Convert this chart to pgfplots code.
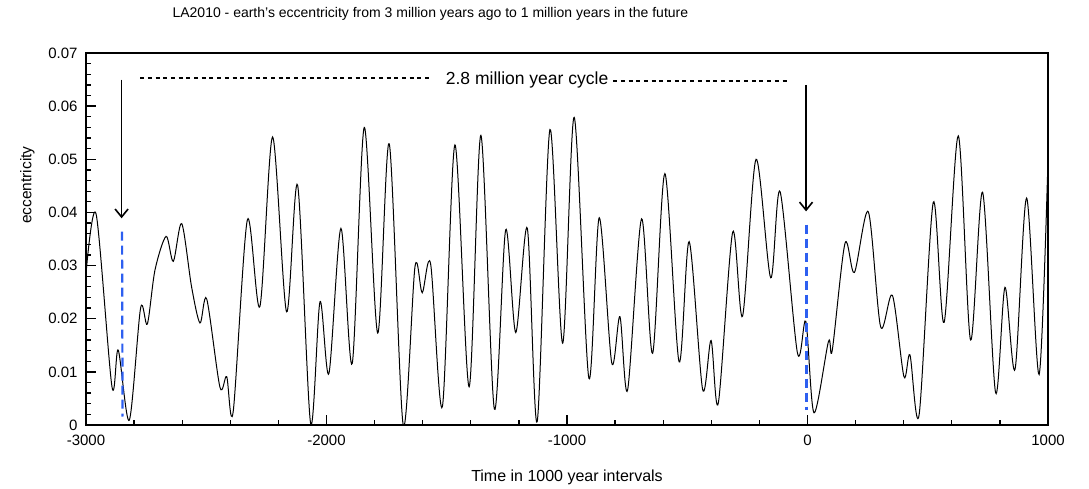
\documentclass[border=0pt]{standalone}
\usepackage{fontspec}
\setmainfont{Liberation Sans}
\usepackage{pgfplots}
\usepackage{pgfplotstable}
\pgfplotsset{compat=1.18}
\usetikzlibrary{arrows.meta}
\definecolor{cyclemark}{RGB}{45,95,240}

% LA2010 eccentricity: turning points of the solution, time in kyr
\pgfplotstableread{
t e
-3000 0.0285
-2958 0.0397
-2892 0.0072
-2866 0.0141
-2820 0.0009
-2773 0.0220
-2745 0.0190
-2713 0.0292
-2667 0.0355
-2637 0.0308
-2602 0.0379
-2561 0.0260
-2526 0.0192
-2498 0.0237
-2443 0.0071
-2415 0.0091
-2388 0.0025
-2329 0.0386
-2277 0.0223
-2224 0.0542
-2166 0.0213
-2120 0.0451
-2066 0.0003
-2027 0.0232
-1990 0.0097
-1940 0.0370
-1893 0.0116
-1843 0.0560
-1787 0.0173
-1739 0.0529
-1681 0.0000
-1632 0.0298
-1602 0.0249
-1567 0.0303
-1518 0.0035
-1466 0.0527
-1407 0.0072
-1358 0.0545
-1302 0.0030
-1255 0.0367
-1213 0.0174
-1165 0.0370
-1124 0.0006
-1071 0.0556
-1018 0.0154
-970 0.0579
-909 0.0088
-866 0.0390
-814 0.0117
-780 0.0204
-748 0.0066
-690 0.0388
-644 0.0135
-593 0.0473
-534 0.0119
-492 0.0345
-436 0.0067
-401 0.0159
-371 0.0041
-311 0.0363
-270 0.0205
-214 0.0500
-153 0.0277
-114 0.0439
-42 0.0136
-7 0.0195
27 0.0023
87 0.0157
103 0.0141
156 0.0342
195 0.0287
253 0.0401
304 0.0185
353 0.0244
401 0.0091
426 0.0132
464 0.0019
523 0.0419
568 0.0193
627 0.0544
678 0.0160
728 0.0438
782 0.0061
821 0.0259
863 0.0105
911 0.0427
963 0.0095
1000 0.0500
}\ecc

\begin{document}
\begin{tikzpicture}
\begin{axis}[
  scale only axis,
  width=962pt, height=372pt,
  xmin=-3000, xmax=1000, ymin=0, ymax=0.07,
  scaled x ticks=false, scaled y ticks=false,
  xtick={-3000,-2000,-1000,0,1000},
  xticklabels={-3000,-2000,-1000,0,1000},
  ytick={0,0.01,0.02,0.03,0.04,0.05,0.06,0.07},
  yticklabels={0,0.01,0.02,0.03,0.04,0.05,0.06,0.07},
  minor x tick num=4, minor y tick num=4,
  tick pos=left, tick align=inside,
  major tick length=10pt, minor tick length=5.5pt,
  every tick/.style={line width=1.3pt, black},
  axis line style={line width=1.8pt},
  ticklabel style={font=\fontsize{15}{18}\selectfont},
  xticklabel style={yshift=-6pt},
  yticklabel style={xshift=-5pt},
  title={LA2010 - earth's eccentricity from 3 million years ago to 1 million years in the future},
  title style={font=\fontsize{14}{17}\selectfont, at={(axis description cs:0.358,1.0806)}, anchor=base},
  xlabel={Time in 1000 year intervals},
  xlabel style={font=\fontsize{16}{19}\selectfont, at={(axis description cs:0.5,-0.153)}, anchor=base},
  ylabel={eccentricity},
  ylabel style={font=\fontsize{15.5}{18}\selectfont, at={(axis description cs:-0.061,0.645)}, anchor=center},
]
\addplot[black, line width=1pt, smooth] table[x=t, y=e] {\ecc};

% 2.8 Myr cycle annotation
\draw[line width=1.6pt, dash pattern=on 4pt off 3.7pt] (-2775,0.0653) -- (-1563,0.0653);
\draw[line width=1.6pt, dash pattern=on 4pt off 3.7pt] (-808,0.0647) -- (-76,0.0647);
\node[anchor=base, font=\fontsize{17.5}{20}\selectfont, inner sep=0pt] at (-1166,0.0640) {2.8 million year cycle};
\draw[line width=1.8pt, -{Straight Barb[length=8pt,width=13pt,line width=1.6pt]}] (-2852,0.065) -- (-2852,0.0389);
\draw[line width=1.8pt, -{Straight Barb[length=8pt,width=13pt,line width=1.6pt]}] (-6,0.064) -- (-6,0.0402);
\draw[cyclemark, line width=2.2pt, dash pattern=on 9pt off 5pt] (-2850,0.0364) -- (-2848,0.0016);
\draw[cyclemark, line width=2.2pt, dash pattern=on 9pt off 5pt] (-4,0.0377) -- (-4,0.0028);
\end{axis}
\pgfresetboundingbox
\path (-86pt,-63pt) rectangle (1003pt,425pt);
\end{tikzpicture}
\end{document}
